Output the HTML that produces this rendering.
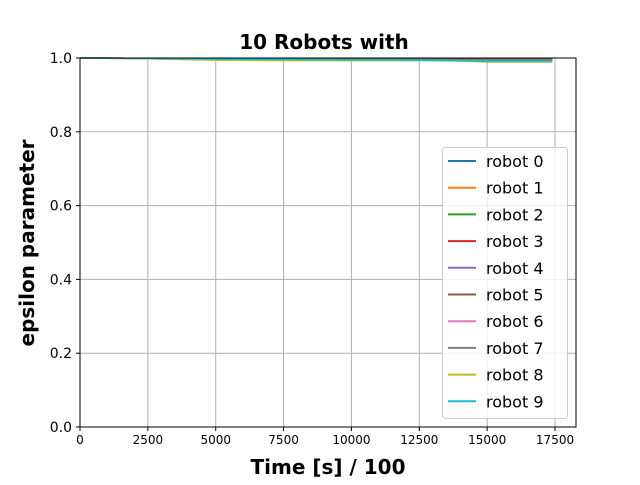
<!DOCTYPE html>
<html><head><meta charset="utf-8"><style>
body{margin:0;background:#fff;font-family:"Liberation Sans","DejaVu Sans",sans-serif}
svg text{font-family:"DejaVu Sans","Liberation Sans",sans-serif}
</style></head><body>
<svg id="chart" width="640" height="480" xmlns="http://www.w3.org/2000/svg">
<rect width="640" height="480" fill="#fff"/>
<g id="grid"></g><g id="lines"></g><g id="axes"></g>
<text x="324" y="49" text-anchor="middle" font-size="20" font-weight="bold">10 Robots with</text>
<text x="328" y="474" text-anchor="middle" font-size="20" font-weight="bold">Time [s] / 100</text>
<text transform="translate(34,243) rotate(-90)" text-anchor="middle" font-size="20" font-weight="bold">epsilon parameter</text>
<g id="legend"></g>
</svg>
<script>
const xTicks=[0,2500,5000,7500,10000,12500,15000,17500];
const yTicks=[0,0.2,0.4,0.6,0.8,1.0];
const times=[0,2500,5000,7500,10000,12500,14000,15000,17400];
const robot0=[1,0.999,0.998,0.997,0.997,0.996,0.996,0.996,0.996];
const robot1=[1,0.999,0.997,0.996,0.996,0.995,0.995,0.995,0.995];
const robot2=[1,0.999,0.997,0.996,0.995,0.994,0.994,0.993,0.993];
const robot3=[1,0.999,0.998,0.997,0.997,0.997,0.997,0.996,0.996];
const robot4=[1,0.998,0.995,0.994,0.994,0.994,0.993,0.993,0.993];
const robot5=[1,0.999,0.998,0.997,0.997,0.997,0.997,0.997,0.997];
const robot6=[1,0.998,0.996,0.995,0.995,0.995,0.994,0.994,0.994];
const robot7=[1,0.999,0.997,0.996,0.996,0.996,0.995,0.995,0.995];
const robot8=[1,0.998,0.994,0.993,0.993,0.993,0.992,0.989,0.989];
const robot9=[1,0.999,0.997,0.996,0.995,0.994,0.993,0.991,0.991];
const series=[robot0,robot1,robot2,robot3,robot4,robot5,robot6,robot7,robot8,robot9];
const labels=["robot 0","robot 1","robot 2","robot 3","robot 4","robot 5","robot 6","robot 7","robot 8","robot 9"];
const colors=["#1f77b4","#ff7f0e","#2ca02c","#d62728","#9467bd","#8c564b","#e377c2","#7f7f7f","#bcbd22","#17becf"];
const L=80,R=576,T=58,B=427,XMAX=18273;
const sx=v=>L+v/XMAX*(R-L), sy=v=>B-v*(B-T);
const NS="http://www.w3.org/2000/svg";
function mk(tag,attrs,parent){const e=document.createElementNS(NS,tag);for(const k in attrs)e.setAttribute(k,attrs[k]);parent.appendChild(e);return e;}
const grid=document.getElementById('grid'),axes=document.getElementById('axes'),lines=document.getElementById('lines'),leg=document.getElementById('legend');
xTicks.forEach(t=>{const x=sx(t);
 const g=mk('line',{x1:x,x2:x,y1:T,y2:B,stroke:'#b0b0b0','stroke-width':1},grid);
 
 mk('line',{x1:x,x2:x,y1:B,y2:B+4,stroke:'#000'},axes);
 const tx=mk('text',{x:x,y:B+17,'text-anchor':'middle','font-size':12},axes);tx.textContent=t;
 });
yTicks.forEach(t=>{const y=sy(t);
 const g=mk('line',{x1:L,x2:R,y1:y,y2:y,stroke:'#b0b0b0','stroke-width':1},grid);
 
 mk('line',{x1:L-4,x2:L,y1:y,y2:y,stroke:'#000'},axes);
 const tx=mk('text',{x:L-8,y:y+5,'text-anchor':'end','font-size':14},axes);tx.textContent=t.toFixed(1);
 });
series.forEach((s,i)=>{const p=s.map((v,j)=>sx(times[j])+','+sy(v)).join(' ');
 const pl=mk('polyline',{points:p,fill:'none',stroke:colors[i],'stroke-width':1.5},lines);
 });
const fr=mk('rect',{x:L,y:T,width:R-L,height:B-T,fill:'none',stroke:'#000','stroke-width':1},axes);

const lb=mk('rect',{x:442.5,y:147.5,width:125,height:271,rx:3,fill:'#fff','fill-opacity':0.8,stroke:'#ccc'},leg);

labels.forEach((l,i)=>{const y=161+i*26.7;
 const g=mk('g',{},leg);
 mk('line',{x1:448,x2:476,y1:y,y2:y,stroke:colors[i],'stroke-width':2},g);
 const t=mk('text',{x:486,y:y+6,'font-size':16},g);t.textContent=l;});
</script>
</body></html>
